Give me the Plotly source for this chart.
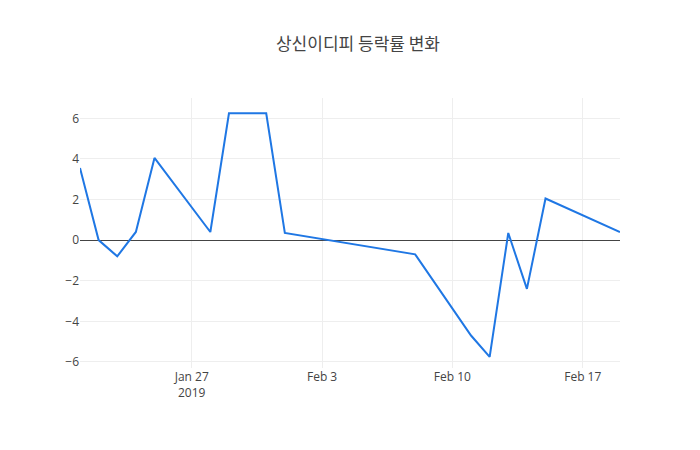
import plotly.graph_objects as go

dates = ["2019-01-21","2019-01-22","2019-01-23","2019-01-24","2019-01-25","2019-01-28",
         "2019-01-29","2019-01-30","2019-01-31","2019-02-01","2019-02-08","2019-02-11",
         "2019-02-12","2019-02-13","2019-02-14","2019-02-15","2019-02-19"]
rates = [3.55, 0.0, -0.8, 0.4, 4.05, 0.4, 6.25, 6.25, 6.25, 0.35, -0.7, -4.7,
         -5.75, 0.35, -2.4, 2.05, 0.4]

fig = go.Figure(go.Scatter(x=dates, y=rates, mode="lines",
                           line=dict(color="#1f77e4", width=2)))
fig.update_layout(
    template="plotly_white",
    width=700, height=450,
    title=dict(text="상신이디피 등락률 변화", x=0.5, xanchor="center",
               y=0.92, yanchor="middle", yref="container",
               font=dict(family="Noto Sans CJK KR", size=17, color="#444")),
    font=dict(family="Open Sans", color="#444"),
    margin=dict(l=72, r=88, t=90, b=90),
    showlegend=False,
)
fig.update_xaxes(range=["2019-01-21", "2019-02-19"], showgrid=True, gridcolor="#eee")
fig.update_yaxes(range=[-6.3, 7.0], dtick=2, gridcolor="#eee",
                 zeroline=True, zerolinecolor="#444", zerolinewidth=1)
fig.write_html("out.html")
